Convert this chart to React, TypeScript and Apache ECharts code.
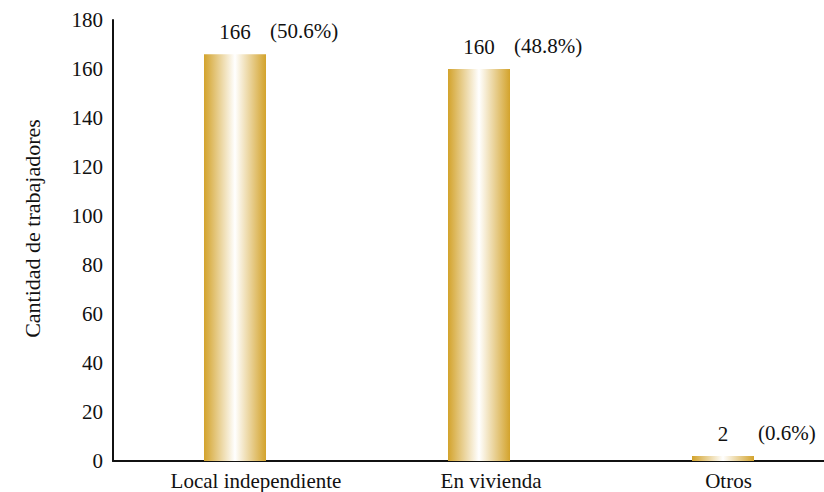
import React, { useEffect, useRef } from "react";
import * as echarts from "echarts";

const categories = ["Local independiente", "En vivienda", "Otros"];
const values = [166, 160, 2];
const percents = ["(50.6%)", "(48.8%)", "(0.6%)"];
const yTicks = { min: 0, max: 180, interval: 20 };
// the reference's category labels sit slightly right of each bar
const labelShift = [42, 24, 11];

const FONT = "Liberation Serif";

export default function App() {
  const ref = useRef<HTMLDivElement>(null);
  useEffect(() => {
    if (!ref.current) return;
    const chart = echarts.init(ref.current, null, { renderer: "svg" });
    const gradient = new echarts.graphic.LinearGradient(0, 0, 1, 0, [
      { offset: 0, color: "#D3A32C" },
      { offset: 0.5, color: "#FFFFFF" },
      { offset: 1, color: "#D3A32C" },
    ]);
    chart.setOption({
      animation: false,
      backgroundColor: "#ffffff",
      textStyle: { fontFamily: FONT },
      grid: { left: 113, right: 0, top: 20, bottom: 31, containLabel: false },
      xAxis: {
        type: "category",
        data: categories.map((c, i) => ({
          value: c,
          textStyle: { padding: [0, 0, 0, labelShift[i]] },
        })),
        axisLine: { show: true, lineStyle: { color: "#111", width: 2 } },
        axisTick: { show: false },
        axisLabel: { color: "#111", fontSize: 21, fontFamily: FONT, margin: 9 },
      },
      yAxis: {
        type: "value",
        min: yTicks.min,
        max: yTicks.max,
        interval: yTicks.interval,
        name: "Cantidad de trabajadores",
        nameLocation: "middle",
        nameGap: 70,
        nameTextStyle: {
          color: "#111",
          fontSize: 22,
          fontFamily: FONT,
          padding: [0, 0, 0, 24],
        },
        axisLine: { show: true, lineStyle: { color: "#111", width: 2 } },
        axisTick: { show: false },
        splitLine: { show: false },
        axisLabel: { color: "#111", fontSize: 21, fontFamily: FONT, margin: 10 },
      },
      series: [
        {
          type: "bar",
          data: values,
          barWidth: 62,
          itemStyle: { color: gradient },
          label: {
            show: true,
            position: "top",
            distance: 12,
            color: "#111",
            fontSize: 21,
            fontFamily: FONT,
          },
        },
        {
          type: "bar",
          data: values,
          barWidth: 62,
          barGap: "-100%",
          itemStyle: { color: "transparent" },
          silent: true,
          label: {
            show: true,
            position: "top",
            distance: 12,
            align: "left",
            offset: [35, -1],
            color: "#111",
            fontSize: 21,
            fontFamily: FONT,
            formatter: (p: any) => percents[p.dataIndex],
          },
        },
      ],
    });
    return () => chart.dispose();
  }, []);
  return (
    <div
      style={{
        position: "absolute",
        left: 0,
        top: 0,
        width: 824,
        height: 492,
        overflow: "hidden",
      }}
    >
      <div ref={ref} style={{ width: 845, height: 492 }} />
    </div>
  );
}
